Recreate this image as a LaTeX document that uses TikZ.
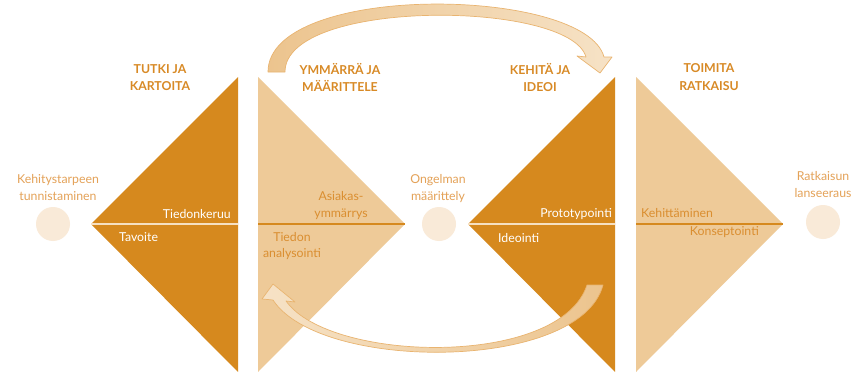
\documentclass[tikz,border=0pt]{standalone}
\usepackage{fontspec}
\setmainfont{Lato}
\begin{document}
\begin{tikzpicture}[x=1pt,y=-1pt,
  headtxt/.style={font=\fontsize{12.3}{14}\selectfont\bfseries, text=headc, inner sep=0pt, anchor=base},
  circtxt/.style={font=\fontsize{12.3}{14}\selectfont, text=circc, inner sep=0pt, anchor=base},
  whitetxt/.style={font=\fontsize{12.3}{14}\selectfont, text=white, inner sep=0pt},
  ortxt/.style={font=\fontsize{12.3}{14}\selectfont, text=triltc, inner sep=0pt},
  stagecirc/.style={circle, fill=circf, minimum size=34pt, inner sep=0pt},
  darktri/.style={fill=darkor},
  lighttri/.style={fill=lightor},
  lightmid/.style={draw=midlt, line width=2pt},
  darkmid/.style={draw=darkor, line width=2pt},
  arrowband/.style={draw=arredge, line width=0.7pt, line join=round}
]
\definecolor{darkor}{RGB}{214,137,30}
\definecolor{lightor}{RGB}{238,202,152}
\definecolor{circf}{RGB}{249,234,216}
\definecolor{headc}{RGB}{216,138,38}
\definecolor{circc}{RGB}{228,162,88}
\definecolor{triltc}{RGB}{218,142,48}
\definecolor{midlt}{RGB}{246,224,194}
\definecolor{arredge}{RGB}{233,180,112}
\definecolor{arrdk}{RGB}{236,196,142}
\definecolor{arrlt}{RGB}{246,226,198}
\useasboundingbox (0,0) rectangle (863,372);
\fill[white] (0,0) rectangle (863,372);

% triangles
\fill[darktri] (91,224) -- (238,77) -- (238,372) -- cycle;
\fill[lighttri] (258,77) -- (405,224) -- (258,372) -- cycle;
\fill[darktri] (468,224) -- (615,77) -- (615,372) -- cycle;
\fill[lighttri] (636,77) -- (783,224) -- (636,372) -- cycle;

% midlines
\draw[lightmid] (91,224) -- (238,224);
\draw[darkmid] (258,224) -- (405,224);
\draw[lightmid] (468,224) -- (615,224);
\draw[darkmid] (636,224) -- (783,224);

% circles
\node[stagecirc] (c1) at (53,224) {};
\node[stagecirc] (c2) at (439,224) {};
\node[stagecirc] (c3) at (823,222) {};

% top arrow
\shade[left color=arrdk, right color=arrlt, shading angle=90] (268,72) .. controls (268,-18) and (585,-14) .. (604,57)
  -- (612,57) -- (600,73) -- (577,56) -- (586,57)
  .. controls (570,0) and (285,-2) .. (285,72) -- cycle;
\draw[arrowband] (268,72) .. controls (268,-18) and (585,-14) .. (604,57)
  -- (612,57) -- (600,73) -- (577,56) -- (586,57)
  .. controls (570,0) and (285,-2) .. (285,72) -- cycle;

% bottom arrow
\shade[left color=arrlt, right color=arrdk] (273,284) -- (295,302) -- (286,301)
  .. controls (330,363) and (560,368) .. (587,285) -- (603,285)
  .. controls (580,372) and (320,372) .. (273,300) -- (262,299) -- cycle;
\draw[arrowband] (273,284) -- (295,302) -- (286,301)
  .. controls (330,363) and (560,368) .. (587,285) -- (603,285)
  .. controls (580,372) and (320,372) .. (273,300) -- (262,299) -- cycle;

% headings
\node[headtxt] (h1a) at (160,73) {TUTKI JA};
\node[headtxt] (h1b) at (160,90) {KARTOITA};
\node[headtxt] (h2a) at (340,74) {YMMÄRRÄ JA};
\node[headtxt] (h2b) at (340,91) {MÄÄRITTELE};
\node[headtxt] (h3a) at (540,74) {KEHITÄ JA};
\node[headtxt] (h3b) at (540,91) {IDEOI};
\node[headtxt] (h4a) at (709,72) {TOIMITA};
\node[headtxt] (h4b) at (709,90) {RATKAISU};

% circle labels
\node[circtxt] (l1a) at (58,183) {Kehitystarpeen};
\node[circtxt] (l1b) at (58,200) {tunnistaminen};
\node[circtxt] (l2a) at (438,183) {Ongelman};
\node[circtxt] (l2b) at (438,200) {määrittely};
\node[circtxt] (l3a) at (823,180) {Ratkaisun};
\node[circtxt] (l3b) at (823,197) {lanseeraus};

% triangle labels
\node[whitetxt, anchor=base east] (t1a) at (231,218) {Tiedonkeruu};
\node[whitetxt, anchor=base west] (t1b) at (119,241) {Tavoite};
\node[ortxt, anchor=base] (t2a) at (341,200) {Asiakas-};
\node[ortxt, anchor=base] (t2b) at (341,217) {ymmärrys};
\node[ortxt, anchor=base] (t2c) at (292,241) {Tiedon};
\node[ortxt, anchor=base] (t2d) at (292,257) {analysointi};
\node[whitetxt, anchor=base east] (t3a) at (612,217) {Prototypointi};
\node[whitetxt, anchor=base west] (t3b) at (498,242) {Ideointi};
\node[ortxt, anchor=base west] (t4a) at (641,217) {Kehittäminen};
\node[ortxt, anchor=base east] (t4b) at (759,235) {Konseptointi};
\end{tikzpicture}
\end{document}
